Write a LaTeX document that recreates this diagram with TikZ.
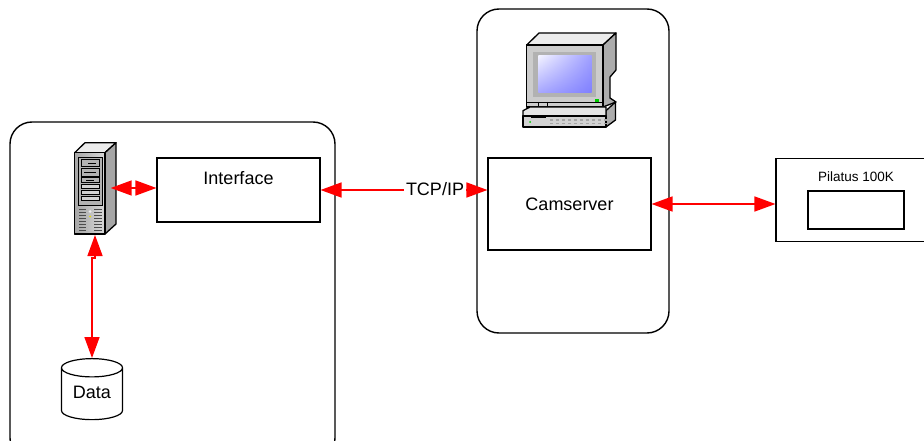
\documentclass[tikz,border=0pt]{standalone}
\usepackage{fontspec}
\setmainfont{Liberation Sans}
\usetikzlibrary{arrows.meta,shapes.geometric,shadings}

\tikzset{
  panel/.style={draw,line width=1.4pt,rounded corners=22pt,minimum width=#1},
  block/.style={draw,line width=1.1pt,fill=white,font=\fontsize{18}{20}\selectfont},
  link/.style={draw=red,line width=1.5pt,{Triangle[length=21pt,width=15pt,fill=red]}-{Triangle[length=21pt,width=15pt,fill=red]}},
  outline/.style={draw=black,line width=1.3pt,line join=round},
  bay/.style={draw=black,line width=0.5pt,fill=#1},
}

\begin{document}
\begin{tikzpicture}[x=1pt,y=-1pt]
  \clip (0,0) rectangle (924,441);
  \fill[white] (0,0) rectangle (924,441);

  % rounded panels
  \node[panel=325pt,minimum height=338pt] (hostpanel) at (172.5,291) {};
  \node[panel=192pt,minimum height=324pt] (campanel) at (573,171) {};

  % boxes
  \node[block,minimum width=163pt,minimum height=64pt,text depth=37pt,text height=27pt,inner ysep=0pt] (interface) at (238.5,190) {Interface};
  \node[block,minimum width=163pt,minimum height=92pt] (camserver) at (569.5,204) {Camserver};
  \node[block,minimum width=170pt,minimum height=83pt] (pilatus) at (861,200) {};
  \node[block,minimum width=96pt,minimum height=38pt] (sensor) at (856,210) {};
  \node[font=\fontsize{13.5}{15}\selectfont] (pilatuslabel) at (856,177) {Pilatus 100K};

  % data store
  \node[cylinder,shape border rotate=90,aspect=0.48,draw,line width=1.2pt,fill=white,
        minimum width=61pt,minimum height=61pt,inner sep=0pt,text height=13pt,text depth=4pt,
        font=\fontsize{18}{20}\selectfont] (data) at (92,394) {Data};

  % server tower
  \fill[outline,fill=gray!15] (74.7,152.7) -- (85,142.7) -- (116,142.7) -- (105,152.7) -- cycle;
  \fill[outline,fill=gray!70] (105,152.7) -- (116,142.7) -- (116,224) -- (105,234) -- cycle;
  \shade[outline,left color=gray!70,right color=gray!30] (74.7,152.7) rectangle (105,234);
  \fill[draw=black,line width=0.6pt,fill=gray!60] (78,157) rectangle (102,205);
  \fill[bay=gray!60] (81,159.5) rectangle (99,166);
  \fill[bay=gray!60] (81,168.5) rectangle (99,176);
  \fill[bay=gray!60] (81,177.5) rectangle (99,182);
  \foreach \ytop in {184,190,196}
    \fill[bay=gray!35] (81,\ytop) rectangle (99,\ytop+4.5);
  \draw[black,line width=0.9pt] (88,163) -- (96,163) (84,172) -- (96,172) (86,180) -- (94,180);
  \foreach \yvent in {209,212,...,230} {
    \draw[gray!60!black,line width=0.5pt] (79,\yvent) -- (86,\yvent);
    \draw[gray!60!black,line width=0.5pt] (94,\yvent) -- (102,\yvent);
  }
  \fill[white!85!gray] (90,211.5) circle (1.5pt);
  \fill[yellow!80!olive] (90,216.5) circle (1pt);

  % monitor
  \fill[outline,fill=gray!15] (526.7,45) -- (539,33) -- (616,33) -- (603,45) -- cycle;
  \fill[outline,fill=gray!65] (603,45) -- (616,33) -- (616,70) -- (610,77) -- (610,98) -- (616,102) -- (603,107) -- cycle;
  \fill[outline,fill=gray!40] (526.7,45) rectangle (603,107);
  \fill[gray!60] (533,51.7) rectangle (596,96.7);
  \shade[upper left=blue!5,upper right=blue!38,lower left=blue!35,lower right=blue!50] (538.3,56) rectangle (591.7,93);
  \fill[green!80!black] (595,99.5) rectangle (599,102);
  \draw[black,line width=0.5pt] (526.7,102) -- (603,102) (538,102) -- (538,107) (547,102) -- (547,107);
  % monitor base
  \fill[outline,fill=gray!65] (606,110.7) -- (615.5,102) -- (615.5,120) -- (606,127) -- cycle;
  \fill[outline,fill=gray!20] (523,110.7) -- (530,107) -- (606,107) -- (606,116) -- (523,116) -- cycle;
  \fill[outline,fill=gray!35] (523,116) rectangle (606,127);
  \fill[black] (531,115.5) rectangle (546,118);
  \fill[green!80!black] (530,122) circle (1pt);
  \foreach \xkey in {550,556,...,604} {
    \fill[gray!70] (\xkey,119.5) rectangle ++(2.5,1.5);
    \fill[gray!70] (\xkey,123) rectangle ++(2.5,1.5);
  }

  % anchors for the arrows that touch the drawn symbols
  \coordinate (servereast) at (110.7,188);
  \coordinate (serverbase) at (95,235);

  % arrows
  \path[link] (servereast) -- (interface.west |- servereast);
  \path[link] (serverbase) -- ++(0,23) -| (data.north);
  \path[link] (interface.east) -- (camserver.west |- interface.east);
  \path[link] (camserver.east) -- (pilatus.west |- camserver.east);

  % protocol label sits on the line
  \node[fill=white,inner xsep=2pt,inner ysep=1pt,font=\fontsize{18}{20}\selectfont] (tcplabel) at (435,189) {TCP/IP};
\end{tikzpicture}
\end{document}
